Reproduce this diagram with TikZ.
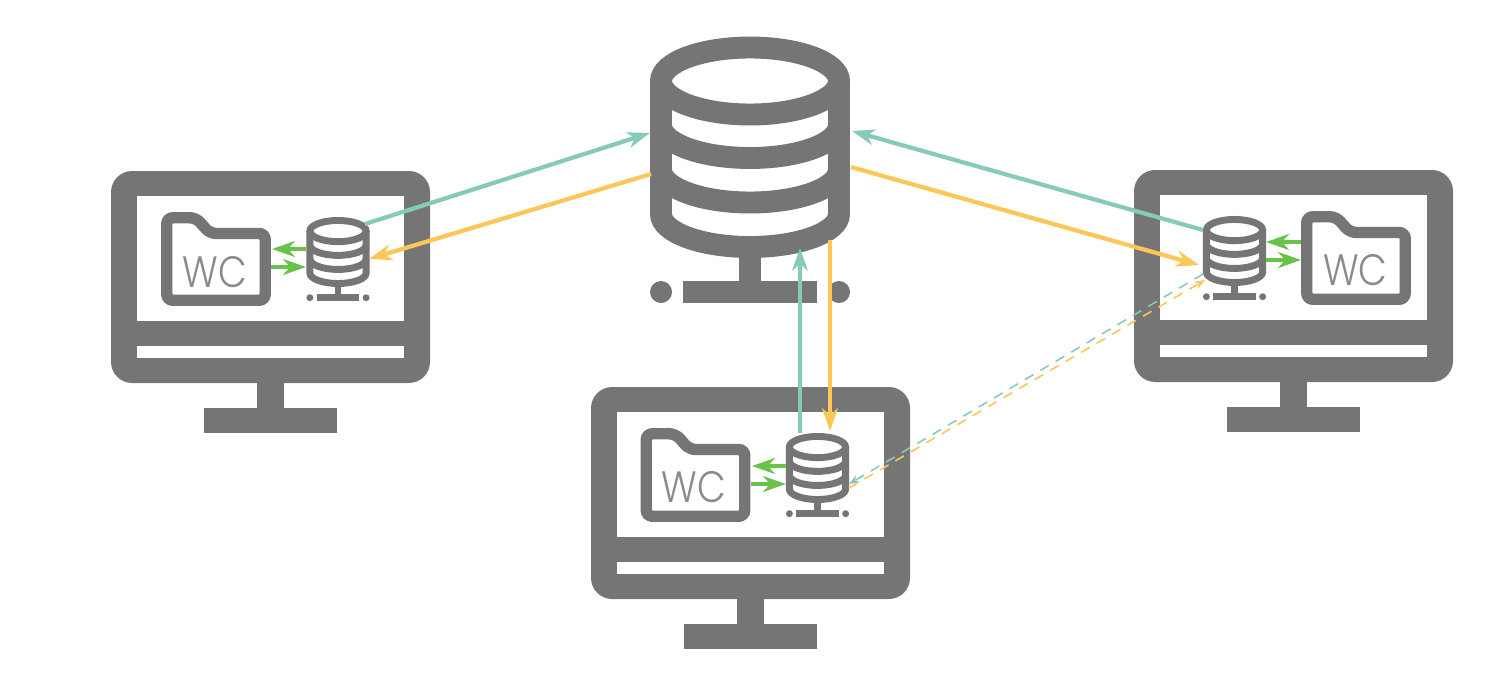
\documentclass[tikz,border=0pt]{standalone}
\usepackage{fontspec}
\usepackage{xcolor}
\usetikzlibrary{arrows.meta, positioning, calc}
\newfontfamily\wcfont{Poppins Light}
\definecolor{icongray}{HTML}{757575}
\definecolor{syncteal}{HTML}{86CBBA}
\definecolor{syncorange}{HTML}{FDC659}
\definecolor{localgreen}{HTML}{69C24A}

\tikzset{
  tipbig/.style={-{Stealth[length=13pt,width=9pt,inset=4pt]}, line width=2.4pt},
  tipsmall/.style={-{Stealth[length=6pt,width=4.5pt,inset=2pt]}, line width=0.9pt, dash pattern=on 5.6pt off 4.6pt},
  wclabel/.style={inner sep=0pt, icongray!85, xscale=0.85, font=\wcfont\fontsize{25}{25}\selectfont}
}

% database icon: #1,#2 = centre in px, #3 = scale
\newcommand{\dbicon}[3]{
  \begin{scope}[shift={(#1,#2)}, scale=#3]
    \draw[icongray, line width=#3*12.47pt] (0,-88.5) ellipse [x radius=89, y radius=33.5];
    \draw[icongray, line width=#3*12.47pt] (-89,-88.5) -- (-89,44.5) arc [start angle=180, end angle=0, x radius=89, y radius=33] -- (89,-88.5);
    \foreach \y in {-44.5,0} {
      \draw[icongray, line width=#3*12.47pt] (-89,\y) arc [start angle=180, end angle=0, x radius=89, y radius=33];
    }
    \fill[icongray] (-11,85) rectangle (11,112);
    \fill[icongray] (-67,111) rectangle (67,133.5);
    \fill[icongray] (-89,122.5) circle (11);
    \fill[icongray] (89,122.5) circle (11);
  \end{scope}
}

% monitor icon: #1,#2 = top centre in px
\newcommand{\monitoricon}[2]{
  \begin{scope}[shift={(#1,#2)}]
    \fill[icongray, rounded corners=12pt] (-159.5,0) rectangle (159.5,212);
    \fill[white] (-133.5,25) rectangle (133.5,150);
    \fill[white] (-133.5,175) rectangle (133.5,187);
    \fill[icongray] (-13.5,212) rectangle (13.5,238);
    \fill[icongray] (-66.5,237) rectangle (66.5,262);
  \end{scope}
}

% folder icon: #1,#2 = top left in px
\newcommand{\foldericon}[2]{
  \begin{scope}[shift={(#1,#2)}]
    \draw[icongray, line width=6.5pt, rounded corners=3.5pt, fill=white]
      (5.75,5.75) -- (35,5.75) -- (49,21.5) -- (104.25,21.5) -- (104.25,88.25) -- (5.75,88.25) -- cycle;
  \end{scope}
}

\begin{document}
\begin{tikzpicture}[x=0.02cm, y=-0.02cm]
  \useasboundingbox (0,0) rectangle (1500,697);

  % Monitors
  \monitoricon{270.5}{171}
  \monitoricon{1293.5}{170}
  \monitoricon{750.5}{387}

  % Central database
  \dbicon{750}{169.5}{1}

  % Local databases
  \dbicon{338}{259}{0.316}
  \dbicon{1234.5}{258}{0.316}
  \dbicon{817.5}{475}{0.316}

  % Working copies
  \foldericon{161}{212}
  \foldericon{1301}{211}
  \foldericon{640.5}{428}
  \node[wclabel] (wcleft) at (215,272) {WC};
  \node[wclabel] (wcright) at (1355.5,270.5) {WC};
  \node[wclabel] (wcbottom) at (694,487.5) {WC};

  % Connector ends
  \coordinate (centerwl) at (650,133);
  \coordinate (centerol) at (651,174);
  \coordinate (centerwr) at (852,131);
  \coordinate (centeror) at (851,167);
  \coordinate (centerwb) at (800,248);
  \coordinate (centerob) at (830,240);
  \coordinate (dbleftout) at (365,224);
  \coordinate (dbleftin) at (369,259);
  \coordinate (dbleftfa) at (306,249);
  \coordinate (dbleftfb) at (306,267);
  \coordinate (folderleftA) at (272,249);
  \coordinate (folderleftB) at (271,267);
  \coordinate (dbrightout) at (1203,230);
  \coordinate (dbrightin) at (1199,265);
  \coordinate (dbrightfa) at (1266,242);
  \coordinate (dbrightfb) at (1266,260);
  \coordinate (folderrightA) at (1301,242);
  \coordinate (folderrightB) at (1301,260);
  \coordinate (dbrightdw) at (1203,274);
  \coordinate (dbrightdo) at (1205,280);
  \coordinate (dbbottomout) at (800,433);
  \coordinate (dbbottomin) at (830,431);
  \coordinate (dbbottomfa) at (786,466);
  \coordinate (dbbottomfb) at (786,484);
  \coordinate (folderbottomA) at (752,466);
  \coordinate (folderbottomB) at (751,484);
  \coordinate (dbbottomdw) at (849,484);
  \coordinate (dbbottomdo) at (849,488);

  % Local arrows
  \draw[tipbig, localgreen] (dbleftfa) -- (folderleftA);
  \draw[tipbig, localgreen] (folderleftB) -- (dbleftfb);
  \draw[tipbig, localgreen] (folderrightA) -- (dbrightfa);
  \draw[tipbig, localgreen] (dbrightfb) -- (folderrightB);
  \draw[tipbig, localgreen] (dbbottomfa) -- (folderbottomA);
  \draw[tipbig, localgreen] (folderbottomB) -- (dbbottomfb);

  % Sync arrows
  \draw[tipbig, syncteal] (dbleftout) -- (centerwl);
  \draw[tipbig, syncorange] (centerol) -- (dbleftin);
  \draw[tipbig, syncteal] (dbrightout) -- (centerwr);
  \draw[tipbig, syncorange] (centeror) -- (dbrightin);
  \draw[tipbig, syncteal] (dbbottomout) -- (centerwb);
  \draw[tipbig, syncorange] (centerob) -- (dbbottomin);

  % Dashed arrows
  \draw[tipsmall, syncteal] (dbrightdw) -- (dbbottomdw);
  \draw[tipsmall, syncorange] (dbbottomdo) -- (dbrightdo);
\end{tikzpicture}
\end{document}
